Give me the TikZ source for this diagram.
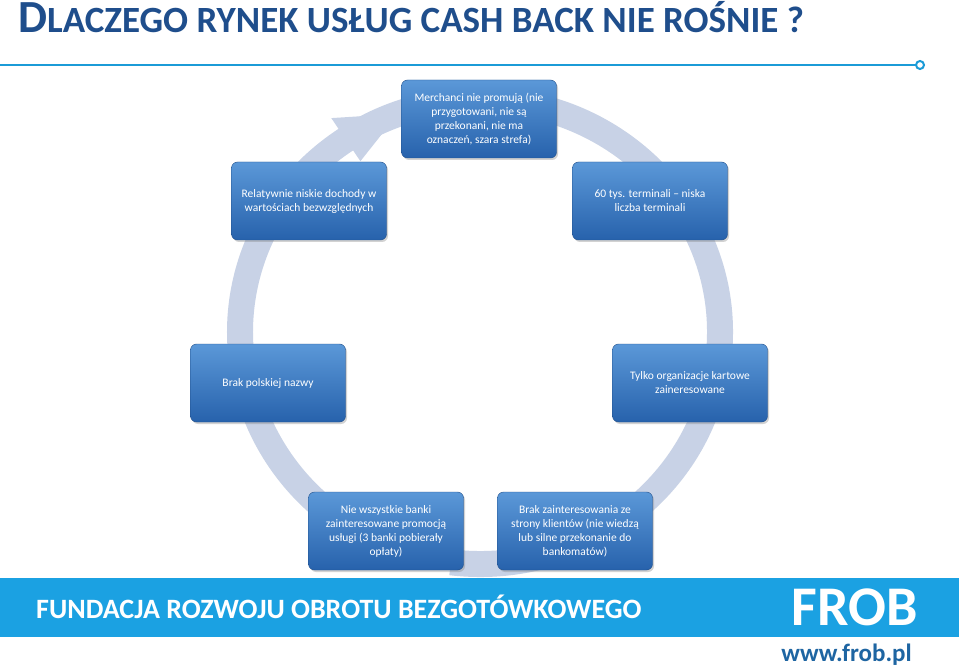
\documentclass[tikz,border=0pt]{standalone}
\usepackage{fontspec}
\setmainfont{Carlito}
\usetikzlibrary{arrows.meta,shadows}
\definecolor{ttl}{HTML}{1F4E8C}
\definecolor{lineblue}{HTML}{1B9BD7}
\definecolor{band}{HTML}{1BA1E2}
\definecolor{ring}{HTML}{C8D2E6}
\definecolor{boxtop}{HTML}{5B98D8}
\definecolor{boxbot}{HTML}{2762AC}
\tikzset{
  cbox/.style={rounded corners=6pt, minimum width=155pt, minimum height=78pt,
    align=center, text=white, top color=boxtop, bottom color=boxbot,
    draw=boxbot!80!black, line width=0.4pt, drop shadow={shadow xshift=1.5pt,shadow yshift=-2pt,opacity=0.35},
    font=\fontsize{11.5}{14}\selectfont, inner sep=3pt}
}
\begin{document}
\begin{tikzpicture}[x=1pt,y=-1pt]
\useasboundingbox (0,0) rectangle (959,671);
\fill[white] (0,0) rectangle (959,671);
% title
\node[anchor=base west, text=ttl, inner sep=0, font=\bfseries] (title) at (18,33)
  {\fontsize{46}{48}\selectfont D\fontsize{37}{40}\selectfont LACZEGO RYNEK USŁUG CASH BACK NIE ROŚNIE ?};
% line
\draw[lineblue, line width=2.2pt] (0,65) -- (915,65);
\node[circle, draw=lineblue, line width=2pt, fill=white, minimum size=8pt, inner sep=0] (dot) at (920,65) {};
% ring
\draw[ring, line width=26pt]
  ([shift={(97:240 and 232)}]480,332) arc[start angle=97, end angle=-236, x radius=240, y radius=232];
\fill[ring] (331.3,118.1) -- (397.9,113.9) -- (360.4,161.2) -- cycle;
% boxes
\node[cbox] (b1) at (479,119) {Merchanci nie promują (nie\\ przygotowani, nie są\\ przekonani, nie ma\\ oznaczeń, szara strefa)};
\node[cbox] (b2) at (309,201) {Relatywnie niskie dochody w\\ wartościach bezwzględnych};
\node[cbox] (b3) at (650,201) {60 tys. terminali -- niska\\ liczba terminali};
\node[cbox] (b4) at (268,383) {Brak polskiej nazwy};
\node[cbox] (b5) at (690,383) {Tylko organizacje kartowe\\ zaineresowane};
\node[cbox] (b6) at (386,531) {Nie wszystkie banki\\ zainteresowane promocją\\ usługi (3 banki pobierały\\ opłaty)};
\node[cbox] (b7) at (575,531) {Brak zainteresowania ze\\ strony klientów (nie wiedzą\\ lub silne przekonanie do\\ bankomatów)};
% footer
\fill[band] (0,578) rectangle (959,637);
\node[anchor=west, text=white, inner sep=0, font=\fontsize{28}{30}\selectfont\bfseries] (fund) at (36,607) {FUNDACJA ROZWOJU OBROTU BEZGOTÓWKOWEGO};
\node[anchor=east, text=white, inner sep=0, font=\fontsize{56}{58}\selectfont\bfseries] (frob) at (918,607) {FROB};
\node[anchor=east, text=ttl!70!lineblue, inner sep=0, font=\fontsize{25}{27}\selectfont\bfseries] (www) at (912,655) {www.frob.pl};
\end{tikzpicture}
\end{document}
